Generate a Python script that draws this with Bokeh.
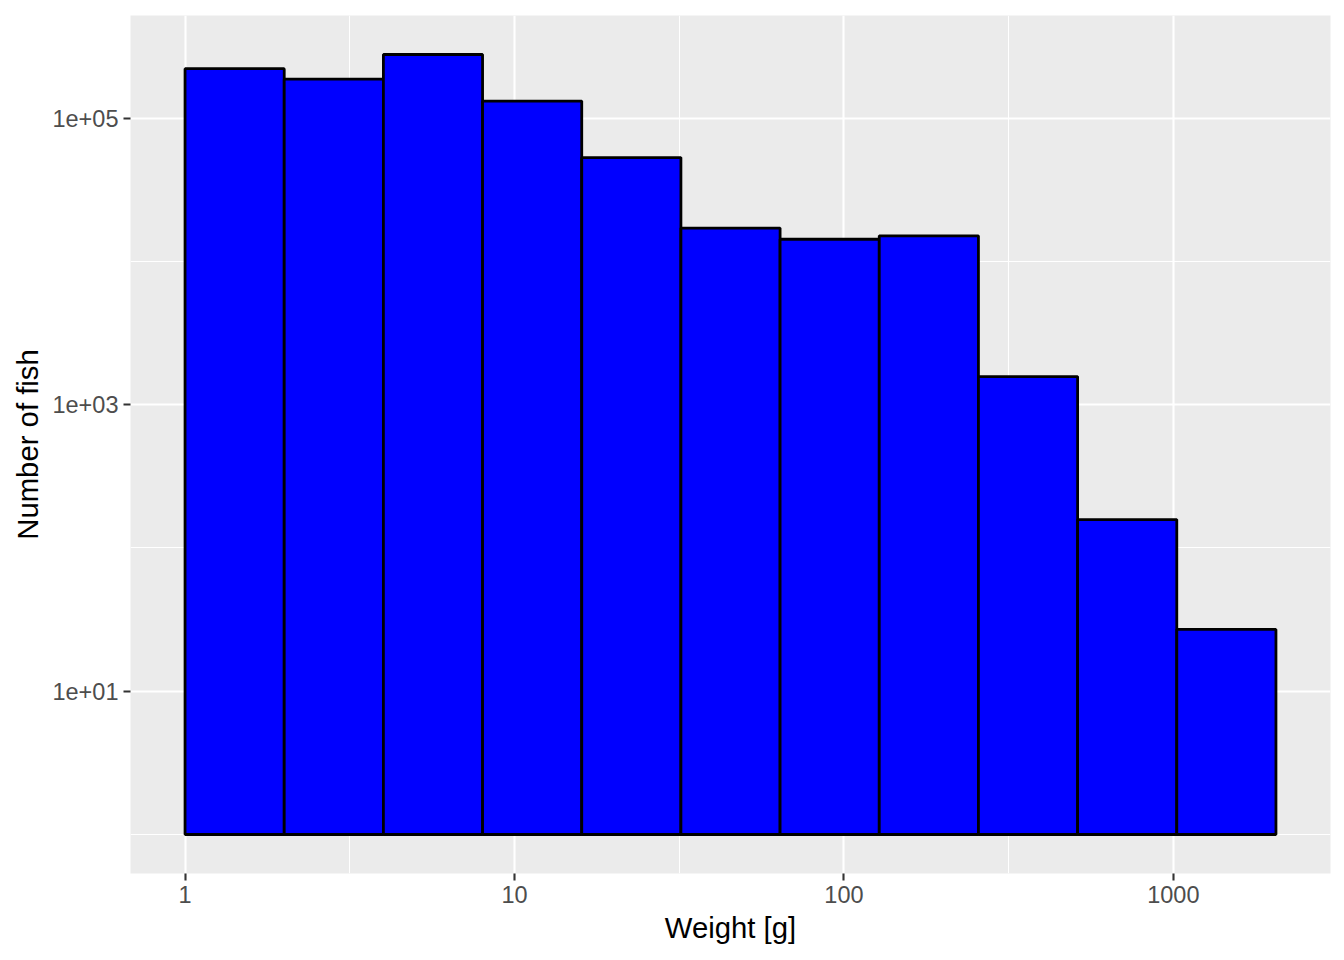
import math
from bokeh.plotting import figure
from bokeh.models import FixedTicker, Range1d, ColumnDataSource
from bokeh.embed import file_html
from bokeh.resources import INLINE

# Data: histogram bins (weight in g) and counts
bin_left = [1, 2, 4, 8, 16, 32, 64, 128, 256, 512, 1024]
bin_right = [2, 4, 8, 16, 32, 64, 128, 256, 512, 1024, 2048]
counts = [222000, 187500, 278600, 131800, 53100, 17100, 14300, 15100, 1574, 158, 27]
bar_bottom = 1

x_ticks = [1, 10, 100, 1000]
x_tick_labels = ["1", "10", "100", "1000"]
x_minor = [10 ** 0.5, 10 ** 1.5, 10 ** 2.5]
y_ticks = [10, 1000, 100000]
y_tick_labels = ["1e+01", "1e+03", "1e+05"]
y_minor = [1, 100, 10000]

FONT = "Liberation Sans"

# ggplot-like expansion (5%) in log space
lx0, lx1 = math.log10(min(bin_left)), math.log10(max(bin_right))
dx = (lx1 - lx0) * 0.05
ly0, ly1 = math.log10(bar_bottom), math.log10(max(counts))
dy = (ly1 - ly0) * 0.05

p = figure(
    width=1336, height=952,
    x_axis_type="log", y_axis_type="log",
    x_range=Range1d(10 ** (lx0 - dx), 10 ** (lx1 + dx)),
    y_range=Range1d(10 ** (ly0 - dy), 10 ** (ly1 + dy)),
    output_backend="svg", toolbar_location=None,
    min_border_left=130, min_border_right=6, min_border_top=15, min_border_bottom=79,
)

p.background_fill_color = "#EBEBEB"
p.border_fill_color = "white"
p.outline_line_color = None

src = ColumnDataSource(dict(left=bin_left, right=bin_right, top=counts,
                            bottom=[bar_bottom] * len(counts)))
p.quad(left="left", right="right", top="top", bottom="bottom", source=src,
       fill_color="#0000FF", line_color="black", line_width=2.8)

xt = FixedTicker(ticks=x_ticks, minor_ticks=x_minor)
yt = FixedTicker(ticks=y_ticks, minor_ticks=y_minor)
p.xaxis.ticker = xt
p.yaxis.ticker = yt
p.xgrid.ticker = xt
p.ygrid.ticker = yt

for g in (p.xgrid, p.ygrid):
    g.grid_line_color = "white"
    g.grid_line_width = 2.1
    g.minor_grid_line_color = "white"
    g.minor_grid_line_width = 1.1
    g.level = "underlay"

p.xaxis.major_label_overrides = {t: l for t, l in zip(x_ticks, x_tick_labels)}
p.yaxis.major_label_overrides = {t: l for t, l in zip(y_ticks, y_tick_labels)}

for ax in (p.xaxis, p.yaxis):
    ax.axis_line_color = None
    ax.major_tick_line_color = "#333333"
    ax.major_tick_line_width = 2.1
    ax.major_tick_out = 7
    ax.major_tick_in = 0
    ax.minor_tick_line_color = None
    ax.major_label_text_font = FONT
    ax.major_label_text_font_size = "23.5px"
    ax.major_label_text_color = "#4D4D4D"
    ax.major_label_standoff = 5
    ax.axis_label_text_font = FONT
    ax.axis_label_text_font_size = "29.3px"
    ax.axis_label_text_font_style = "normal"
    ax.axis_label_text_color = "black"

p.xaxis.axis_label = "Weight [g]"
p.yaxis.axis_label = "Number of fish"
p.xaxis.axis_label_standoff = 5
p.yaxis.axis_label_standoff = 5

open("out.html", "w").write(file_html(p, INLINE))
